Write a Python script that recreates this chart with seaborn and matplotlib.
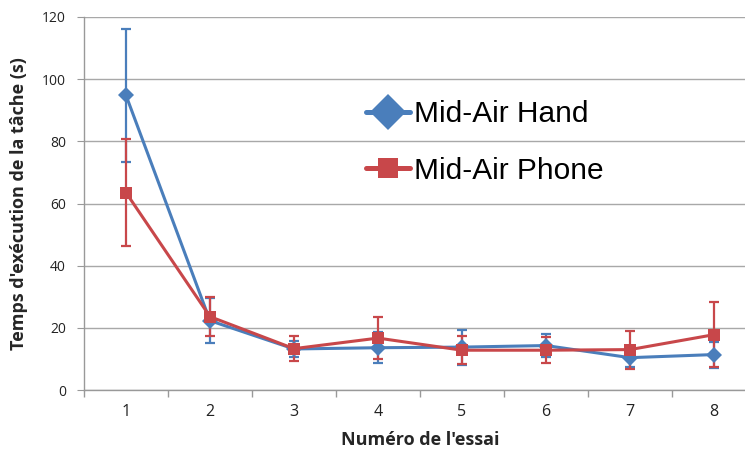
import numpy as np
import pandas as pd
import matplotlib
matplotlib.use("Agg")
import matplotlib.pyplot as plt
from matplotlib.lines import Line2D
import seaborn as sns

# Task completion time per trial, mean and error (s)
trials = [1, 2, 3, 4, 5, 6, 7, 8]
hand_mean = [94.8, 22.3, 13.2, 13.6, 13.8, 14.3, 10.4, 11.4]
hand_err = [21.3, 7.3, 2.6, 5.0, 5.6, 3.6, 3.0, 4.2]
phone_mean = [63.5, 23.6, 13.3, 16.7, 12.8, 12.8, 13.0, 17.8]
phone_err = [17.2, 6.3, 4.0, 6.7, 4.5, 4.2, 6.1, 10.5]
series_names = ["Mid-Air Hand", "Mid-Air Phone"]
y_ticks = [0, 20, 40, 60, 80, 100, 120]

blue = "#4A7EBB"
red = "#C8474A"

df = pd.DataFrame({
    "essai": trials * 2,
    "temps": hand_mean + phone_mean,
    "err": hand_err + phone_err,
    "serie": [series_names[0]] * len(trials) + [series_names[1]] * len(trials),
})

sns.set_style("white")
plt.rcParams["font.family"] = ["Open Sans", "DejaVu Sans"]

fig = plt.figure(figsize=(7.45, 4.55), dpi=100)
ax = fig.add_axes([84 / 745, 1 - 390 / 455, 672 / 745, 373 / 455])

palette = {series_names[0]: blue, series_names[1]: red}
markers = {series_names[0]: "D", series_names[1]: "s"}

# error bars first so the lines sit on top
for name in series_names:
    sub = df[df["serie"] == name]
    ax.errorbar(sub["essai"], sub["temps"], yerr=sub["err"], fmt="none",
                ecolor=palette[name], elinewidth=1.6, capsize=3.5,
                capthick=1.6, zorder=3)

sns.lineplot(data=df, x="essai", y="temps", hue="serie", style="serie",
             palette=palette, markers=markers, dashes=False, markersize=8,
             markeredgewidth=0, linewidth=2.2, ax=ax, legend=False, zorder=4)

ax.set_xlim(0.5, 8.5)
ax.set_ylim(0, 120)
ax.set_yticks(y_ticks)
ax.set_xticks(trials)
ax.set_xticks(np.arange(0.5, 9.0, 1.0), minor=True)
ax.tick_params(axis="x", which="major", length=0, labelsize=11.5,
               colors="#222222", pad=10)
ax.tick_params(axis="x", which="minor", length=5, color="#999999",
               direction="out", width=1, bottom=True)
ax.tick_params(axis="y", length=5, color="#999999", direction="out",
               labelsize=10, colors="#222222", left=True, pad=8)

ax.grid(axis="y", color="#A8A8A8", linewidth=1.0)
ax.set_axisbelow(True)
for side in ["top", "right"]:
    ax.spines[side].set_visible(False)
for side in ["left", "bottom"]:
    ax.spines[side].set_color("#999999")
    ax.spines[side].set_linewidth(1.0)

ax.set_xlabel("Numéro de l'essai", fontsize=13, fontweight="bold",
              labelpad=8)
ax.set_ylabel("Temps d'exécution de la tâche (s)", fontsize=13,
              fontweight="bold", labelpad=10)

handles = [
    Line2D([], [], color=blue, marker="D", markersize=18, linewidth=3.6,
           markeredgewidth=0),
    Line2D([], [], color=red, marker="s", markersize=14, linewidth=3.6,
           markeredgewidth=0),
]
leg = ax.legend(handles, series_names, loc="upper left",
                bbox_to_anchor=(0.38, 0.849), frameon=False,
                prop={"family": ["Liberation Sans", "DejaVu Sans"], "size": 21.5},
                handlelength=1.45, handletextpad=0.15, labelspacing=0.95)
for txt in leg.get_texts():
    txt.set_color("black")

fig.savefig("out.png", dpi=100)
